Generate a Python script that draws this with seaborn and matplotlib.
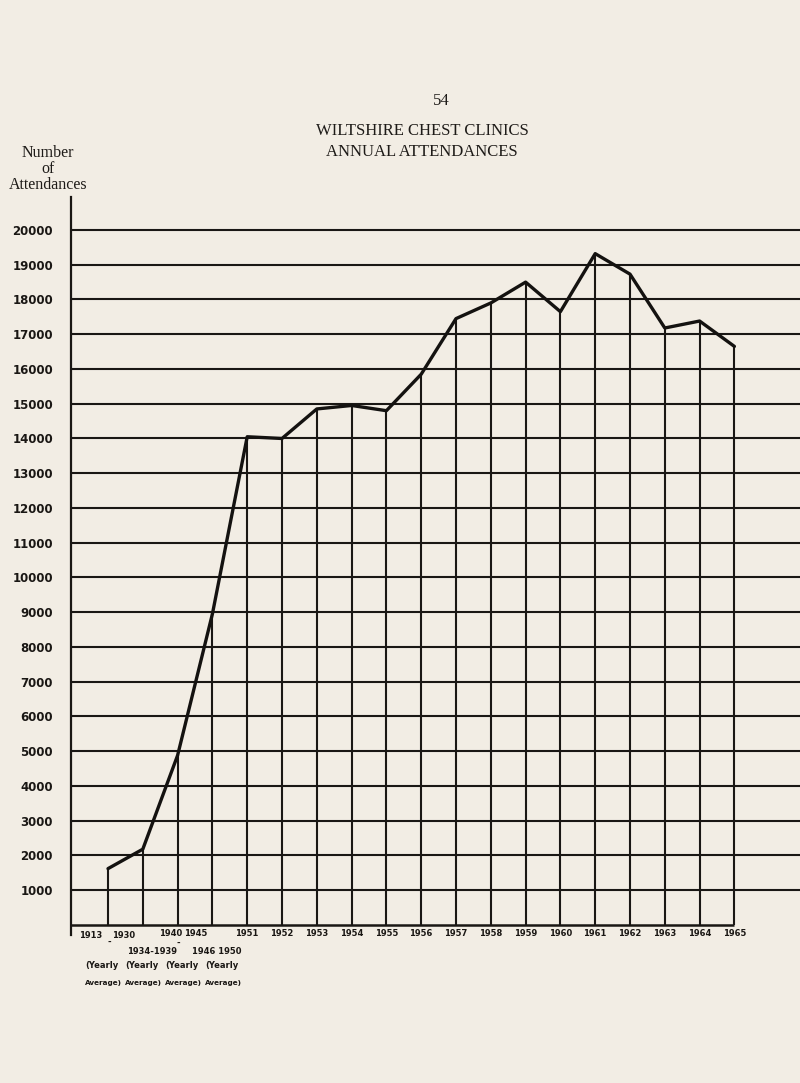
import matplotlib
matplotlib.use("Agg")
import matplotlib.pyplot as plt
import seaborn as sns
import pandas as pd
import numpy as np

# ---- data ----
periods = ["1913-1930", "1934-1939", "1940-1945", "1946-1950",
           "1951", "1952", "1953", "1954", "1955", "1956", "1957", "1958",
           "1959", "1960", "1961", "1962", "1963", "1964", "1965"]
attendances = [1620, 2180, 4880, 8950,
               14050, 14000, 14850, 14950, 14800, 15850, 17450, 17900,
               18500, 17650, 19320, 18730, 17180, 17380, 16650]
year_labels = ["", "", "", "",
               "1951", "1952", "1953", "1954", "1955", "1956", "1957", "1958",
               "1959", "1960", "1961", "1962", "1963", "1964", "1965"]
y_ticks = [1000, 2000, 3000, 4000, 5000, 6000, 7000, 8000, 9000, 10000,
           11000, 12000, 13000, 14000, 15000, 16000, 17000, 18000, 19000, 20000]

df = pd.DataFrame({"pos": np.arange(len(periods)), "period": periods,
                   "attendances": attendances})

sns.set_theme(style="white")
bg = "#f2ede4"
plt.rcParams["font.family"] = ["DejaVu Sans"]

W, H = 800, 1083
fig = plt.figure(figsize=(W / 100, H / 100), dpi=100, facecolor=bg)

def px(x, y):
    return x / W, 1 - y / H

left_px, right_px, top_px, bot_px = 71, 800, 197, 935
ax = fig.add_axes([left_px / W, 1 - bot_px / H, (right_px - left_px) / W,
                   (bot_px - top_px) / H])
ax.set_facecolor(bg)

step = 34.8
ax.set_xlim((left_px - 108) / step, (right_px - 108) / step)
ax.set_ylim(-290, 20950)

# horizontal rules
ax.hlines(y_ticks, xmin=ax.get_xlim()[0], xmax=ax.get_xlim()[1],
          color="#1a1714", lw=1.5, zorder=1)
# baseline
ax.hlines([0], xmin=ax.get_xlim()[0], xmax=df["pos"].iloc[-1],
          color="#1a1714", lw=1.8, zorder=1)
# drop lines from baseline to the curve
ax.vlines(df["pos"], 0, df["attendances"], color="#1a1714", lw=1.5, zorder=2)
# the curve
sns.lineplot(data=df, x="pos", y="attendances", ax=ax, color="#141210",
             lw=2.4, zorder=3, sort=False)

for s in ["top", "right", "bottom"]:
    ax.spines[s].set_visible(False)
ax.spines["left"].set_color("#1a1714")
ax.spines["left"].set_linewidth(1.6)

ax.set_yticks(y_ticks)
ax.set_yticklabels([str(v) for v in y_ticks], fontsize=8.5, fontweight="bold",
                   color="#1a1714")
ax.tick_params(axis="y", length=0, pad=13)
ax.set_xticks(df["pos"])
ax.set_xticklabels(year_labels, fontsize=6, fontweight="bold", color="#1a1714")
ax.tick_params(axis="x", length=0, pad=-4)
ax.set_xlabel("")
ax.set_ylabel("")

# early period labels (handwritten in the original)
tc = "#1a1714"
kw = dict(fontsize=6, fontweight="bold", color=tc, ha="center", va="center")
fig.text(*px(91, 936), "1913", **kw)
fig.text(*px(109, 942), "-", **kw)
fig.text(*px(124, 936), "1930", **kw)
fig.text(*px(152, 952), "1934-1939", **kw)
fig.text(*px(171, 934), "1940", **kw)
fig.text(*px(178, 943), "-", **kw)
fig.text(*px(196, 934), "1945", **kw)
fig.text(*px(217, 952), "1946 1950", **kw)
for i, x in enumerate([102, 142, 182, 222]):
    fig.text(*px(x, 965), "(Yearly", fontsize=6, color=tc, ha="center",
             va="center", fontweight="bold")
    fig.text(*px(x + 1, 983), "Average)", fontsize=5.2, color=tc, ha="center",
             va="center", fontweight="bold")

# titles
serif = ["Liberation Serif", "DejaVu Serif"]
fig.text(*px(441, 101), "54", family=serif, fontsize=12, color="#1e1b18",
         ha="center", va="center")
fig.text(*px(422, 131), "WILTSHIRE CHEST CLINICS", family=serif, fontsize=12,
         color="#1e1b18", ha="center", va="center")
fig.text(*px(422, 152), "ANNUAL ATTENDANCES", family=serif, fontsize=12,
         color="#1e1b18", ha="center", va="center")
fig.text(*px(48, 153), "Number", family=serif, fontsize=11.5, color="#1e1b18",
         ha="center", va="center")
fig.text(*px(48, 169), "of", family=serif, fontsize=11.5, color="#1e1b18",
         ha="center", va="center")
fig.text(*px(48, 185), "Attendances", family=serif, fontsize=11.5,
         color="#1e1b18", ha="center", va="center")

fig.savefig("out.png", dpi=100, facecolor=bg)
